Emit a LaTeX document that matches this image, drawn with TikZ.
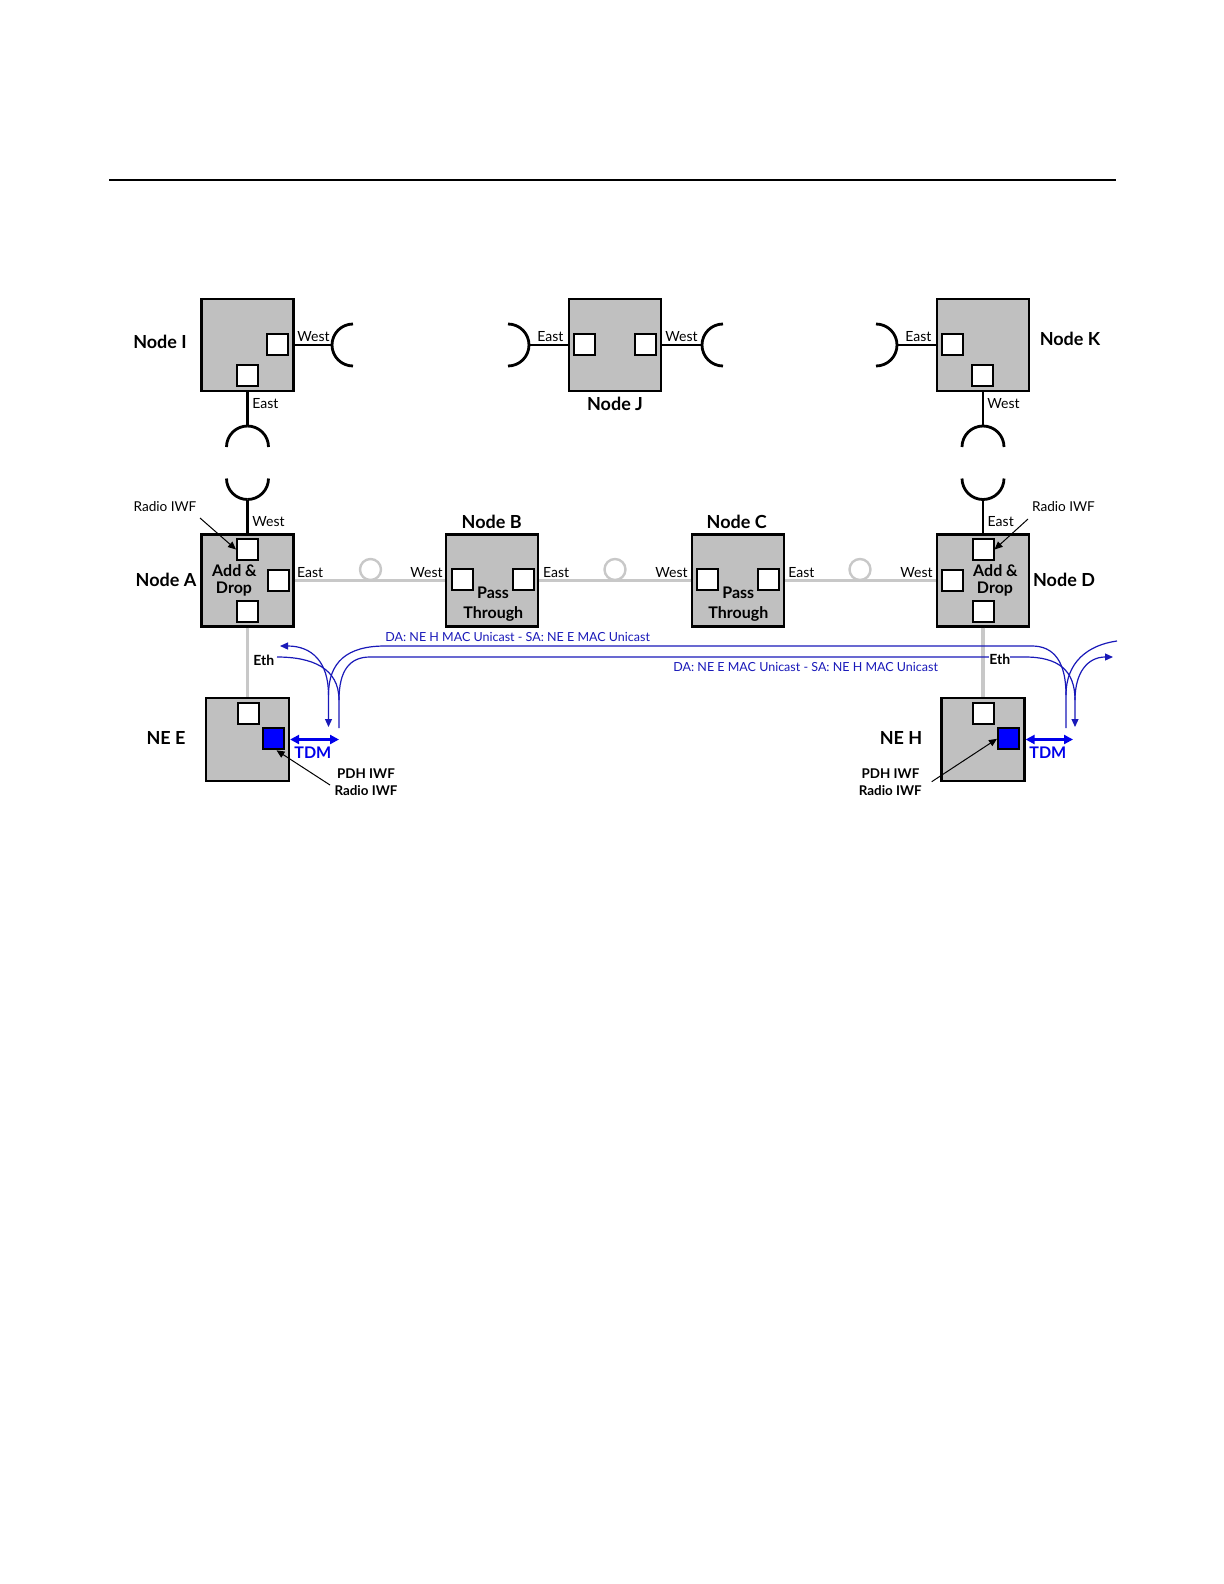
\documentclass[tikz,border=0pt]{standalone}
\usepackage{fontspec}
\setmainfont{Lato}
\usetikzlibrary{arrows.meta}
\definecolor{boxgray}{RGB}{192,192,192}
\definecolor{linkgray}{RGB}{200,200,200}
\definecolor{portblue}{RGB}{0,0,255}
\definecolor{flowblue}{RGB}{25,25,185}
\definecolor{tdmblue}{RGB}{0,0,235}
\begin{document}
\begin{tikzpicture}[x=0.5pt,y=-0.5pt,
  box/.style={draw=black, line width=1.1pt, fill=boxgray, minimum size=46pt, inner sep=0pt},
  nebox/.style={box, minimum size=41.5pt},
  port/.style={draw=black, line width=1pt, fill=white, minimum size=10.5pt, inner sep=0pt},
  bport/.style={port, fill=portblue},
  radio/.style={line width=1.4pt, black},
  ringlink/.style={line width=1.6pt, linkgray},
  loopc/.style={circle, draw=linkgray, line width=1.2pt, minimum size=10.5pt, inner sep=0pt},
  lbl/.style={font=\fontsize{7}{8}\selectfont, inner sep=0pt},
  nlbl/.style={font=\bfseries\fontsize{9}{10}\selectfont, inner sep=0pt},
  inlbl/.style={font=\bfseries\fontsize{8}{9}\selectfont, inner sep=0pt},
  iwf/.style={font=\fontsize{6.8}{7.5}\selectfont, inner sep=0pt},
  iwfb/.style={font=\bfseries\fontsize{6.7}{7.5}\selectfont, inner sep=0pt},
  dalbl/.style={font=\fontsize{6.25}{7}\selectfont, text=flowblue, inner sep=0pt},
  tdmlbl/.style={font=\bfseries\fontsize{8}{9}\selectfont, text=tdmblue, inner sep=0pt},
  ptr/.style={black, line width=0.5pt, -{Triangle[length=4pt,width=3.5pt]}},
  flow/.style={flowblue, line width=0.6pt},
  tdm/.style={tdmblue, line width=1.5pt, {Triangle[length=4.5pt,width=4.5pt]}-{Triangle[length=4.5pt,width=4.5pt]}}
]
\useasboundingbox (0,0) rectangle (1224,1584);
\fill[white] (0,0) rectangle (1224,1584);

% header rule
\draw[line width=1pt] (109,180) -- (1116,180);

% ---------- boxes ----------
\node[box] (I) at (247.5,345) {};
\node[box] (J) at (615,345) {};
\node[box] (K) at (983,345) {};
\node[box] (A) at (247.5,580.5) {};
\node[box] (B) at (492,580.5) {};
\node[box] (C) at (738,580.5) {};
\node[box] (D) at (983,580.5) {};
\node[nebox] (E) at (247.5,739.5) {};
\node[nebox] (H) at (983,739.5) {};

% ---------- ports ----------
\node[port] (Ip1) at (277.5,344.5) {};
\node[port] (Ip2) at (247.5,375.5) {};
\node[port] (Jp1) at (584.5,344.5) {};
\node[port] (Jp2) at (645.5,344.5) {};
\node[port] (Kp1) at (952.5,344.5) {};
\node[port] (Kp2) at (982.5,375.5) {};
\node[port] (Ap1) at (247.5,549.5) {};
\node[port] (Ap2) at (278.5,580.5) {};
\node[port] (Ap3) at (247.5,611.5) {};
\node[port] (Bp1) at (462.5,579.5) {};
\node[port] (Bp2) at (523.5,579.5) {};
\node[port] (Cp1) at (707.5,579.5) {};
\node[port] (Cp2) at (768.8,579.5) {};
\node[port] (Dp1) at (983,549.5) {};
\node[port] (Dp2) at (952.5,580.5) {};
\node[port] (Dp3) at (983,611.5) {};
\node[port] (Ep1) at (248,713.3) {};
\node[bport] (Eb) at (273.5,738.8) {};
\node[port] (Hp1) at (983.3,713.3) {};
\node[bport] (Hb) at (1008.5,738.8) {};

% ---------- radio links ----------
\coordinate (Iw) at (332,345);
\coordinate (Ie) at (247.5,426);
\coordinate (Aw) at (247.5,499.5);
\coordinate (Je) at (529,345);
\coordinate (Jw) at (702,345);
\coordinate (Ke) at (897,345);
\coordinate (Kw) at (983,426);
\coordinate (De) at (983,499.5);

\draw[radio] (I.east |- Iw) -- (Iw);
\draw[radio] (Iw) arc[start angle=180, end angle=90, radius=21];
\draw[radio] (Iw) arc[start angle=180, end angle=270, radius=21];
\draw[radio] (I.south) -- (Ie);
\draw[radio] (Ie) arc[start angle=270, end angle=180, radius=21];
\draw[radio] (Ie) arc[start angle=270, end angle=360, radius=21];
\draw[radio] (A.north) -- (Aw);
\draw[radio] (Aw) arc[start angle=90, end angle=180, radius=21];
\draw[radio] (Aw) arc[start angle=90, end angle=0, radius=21];

\draw[radio] (J.west |- Je) -- (Je);
\draw[radio] (Je) arc[start angle=0, end angle=-90, radius=21];
\draw[radio] (Je) arc[start angle=0, end angle=90, radius=21];
\draw[radio] (J.east |- Jw) -- (Jw);
\draw[radio] (Jw) arc[start angle=180, end angle=90, radius=21];
\draw[radio] (Jw) arc[start angle=180, end angle=270, radius=21];

\draw[radio] (K.west |- Ke) -- (Ke);
\draw[radio] (Ke) arc[start angle=0, end angle=-90, radius=21];
\draw[radio] (Ke) arc[start angle=0, end angle=90, radius=21];
\draw[radio] (K.south) -- (Kw);
\draw[radio] (Kw) arc[start angle=270, end angle=180, radius=21];
\draw[radio] (Kw) arc[start angle=270, end angle=360, radius=21];
\draw[radio] (D.north) -- (De);
\draw[radio] (De) arc[start angle=90, end angle=180, radius=21];
\draw[radio] (De) arc[start angle=90, end angle=0, radius=21];

% ---------- ring links ----------
\draw[ringlink] (A.east) -- (B.west);
\draw[ringlink] (B.east) -- (C.west);
\draw[ringlink] (C.east) -- (D.west);
\draw[ringlink] (A.south) -- (E.north);
\draw[ringlink] (D.south) -- (H.north);
\node[loopc] (c1) at (370.5,569.5) {};
\node[loopc] (c2) at (615,569.5) {};
\node[loopc] (c3) at (860,569.5) {};

% ---------- blue flows ----------
\coordinate (eL) at (280,646);
\coordinate (eEth) at (277,657);
\coordinate (eV1) at (328.5,727);
\coordinate (eV2) at (339,728);
\coordinate (eK1) at (328.5,695);
\coordinate (eK2) at (339,700);
\coordinate (hV1) at (1066,728);
\coordinate (hV2) at (1075,727);
\coordinate (hK1) at (1066,695);
\coordinate (hK2) at (1075,700);
\coordinate (hR) at (1113,657);
\coordinate (hR2) at (1117,641);

\draw[flow, {Triangle[length=4pt,width=3.5pt]}-{Triangle[length=4pt,width=3.5pt]}] (eL) .. controls (312,646) and (328.5,662) .. (eK1) -- (eV1);
\draw[flow] (eEth) .. controls (312,657) and (339,668) .. (eK2) -- (eV2);
\draw[flow] (eK1) .. controls (328.5,662) and (347,646) .. (385,646) -- (1032,646) .. controls (1054,646) and (1066,662) .. (hK1) -- (hV1);
\draw[flow, -{Triangle[length=4pt,width=3.5pt]}] (eK2) .. controls (339,670) and (350,657) .. (370,657) -- (1025,657) .. controls (1058,657) and (1075,670) .. (hK2) -- (hV2);
\draw[flow, -{Triangle[length=4pt,width=3.5pt]}] (hK2) .. controls (1075,672) and (1088,657) .. (hR);
\draw[flow] (hK1) .. controls (1066,662) and (1088,645) .. (hR2);

\node[dalbl, anchor=base west] (da1) at (385,641) {DA: NE H MAC Unicast - SA: NE E MAC Unicast};
\node[dalbl, anchor=base west] (da2) at (673,671.5) {DA: NE E MAC Unicast - SA: NE H MAC Unicast};

% TDM
\coordinate (eT) at (339,739.5);
\coordinate (hT) at (1073,739.5);
\draw[tdm] (E.east) -- (eT);
\draw[tdm] (H.east) -- (hT);
\node[tdmlbl, anchor=base west] (tE) at (294,758.3) {TDM};
\node[tdmlbl, anchor=base west] (tH) at (1029,758.3) {TDM};

% ---------- labels ----------
\node[nlbl, anchor=base] (nI) at (160,348.3) {Node I};
\node[nlbl, anchor=base] (nJ) at (615,410.7) {Node J};
\node[nlbl, anchor=base] (nK) at (1070,345) {Node K};
\node[nlbl, anchor=base] (nA) at (166,586) {Node A};
\node[nlbl, anchor=base] (nB) at (491.7,528.3) {Node B};
\node[nlbl, anchor=base] (nC) at (736.7,528.3) {Node C};
\node[nlbl, anchor=base] (nD) at (1064,586) {Node D};
\node[nlbl, anchor=base] (nE) at (166,744) {NE E};
\node[nlbl, anchor=base] (nH) at (901,744) {NE H};

\node[lbl, anchor=base west] at (297,341.7) {West};
\node[lbl, anchor=base west] at (252,408.3) {East};
\node[lbl, anchor=base west] at (537,341.7) {East};
\node[lbl, anchor=base west] at (665,341.7) {West};
\node[lbl, anchor=base west] at (905,341.7) {East};
\node[lbl, anchor=base west] at (987,408.3) {West};
\node[lbl, anchor=base west] at (252,526.7) {West};
\node[lbl, anchor=base west] at (296.7,577.3) {East};
\node[lbl, anchor=base west] at (410,577.3) {West};
\node[lbl, anchor=base west] at (542.7,577.3) {East};
\node[lbl, anchor=base west] at (655,577.3) {West};
\node[lbl, anchor=base west] at (788,577.3) {East};
\node[lbl, anchor=base west] at (900,577.3) {West};
\node[lbl, anchor=base west] at (987.3,526.7) {East};

\node[inlbl, anchor=base] at (234.5,576.7) {Add \&};
\node[inlbl, anchor=base] at (234,593.3) {Drop};
\node[inlbl, anchor=base] at (995.5,576.7) {Add \&};
\node[inlbl, anchor=base] at (995,593.3) {Drop};
\node[inlbl, anchor=base] at (493,598.3) {Pass};
\node[inlbl, anchor=base] at (493.3,618.3) {Through};
\node[inlbl, anchor=base] at (738.3,598.3) {Pass};
\node[inlbl, anchor=base] at (738.3,618.3) {Through};

\node[lbl, anchor=base west, fill=white] (ethE) at (253,665) {\bfseries Eth};
\node[lbl, anchor=base west, fill=white] (ethH) at (989,664.3) {\bfseries Eth};

% IWF callouts
\node[iwf, anchor=base] (rA) at (165,511.7) {Radio IWF};
\node[iwf, anchor=base] (rD) at (1063.5,511.7) {Radio IWF};
\coordinate (rAs) at (200,518);
\coordinate (rDs) at (1028,519);
\draw[ptr] (rAs) -- (Ap1.west);
\draw[ptr] (rDs) -- (Dp1.east);

\node[iwfb, anchor=base] (pE) at (366,778.3) {PDH IWF};
\node[iwfb, anchor=base] (qE) at (366,795.7) {Radio IWF};
\node[iwfb, anchor=base] (pH) at (890.5,778.3) {PDH IWF};
\node[iwfb, anchor=base] (qH) at (890.3,795.7) {Radio IWF};
\coordinate (pEs) at (330,785);
\coordinate (pHs) at (931.7,781.7);
\draw[ptr] (pEs) -- ([xshift=1.5pt]Eb.south);
\draw[ptr] (pHs) -- (Hb.west);
\end{tikzpicture}
\end{document}
